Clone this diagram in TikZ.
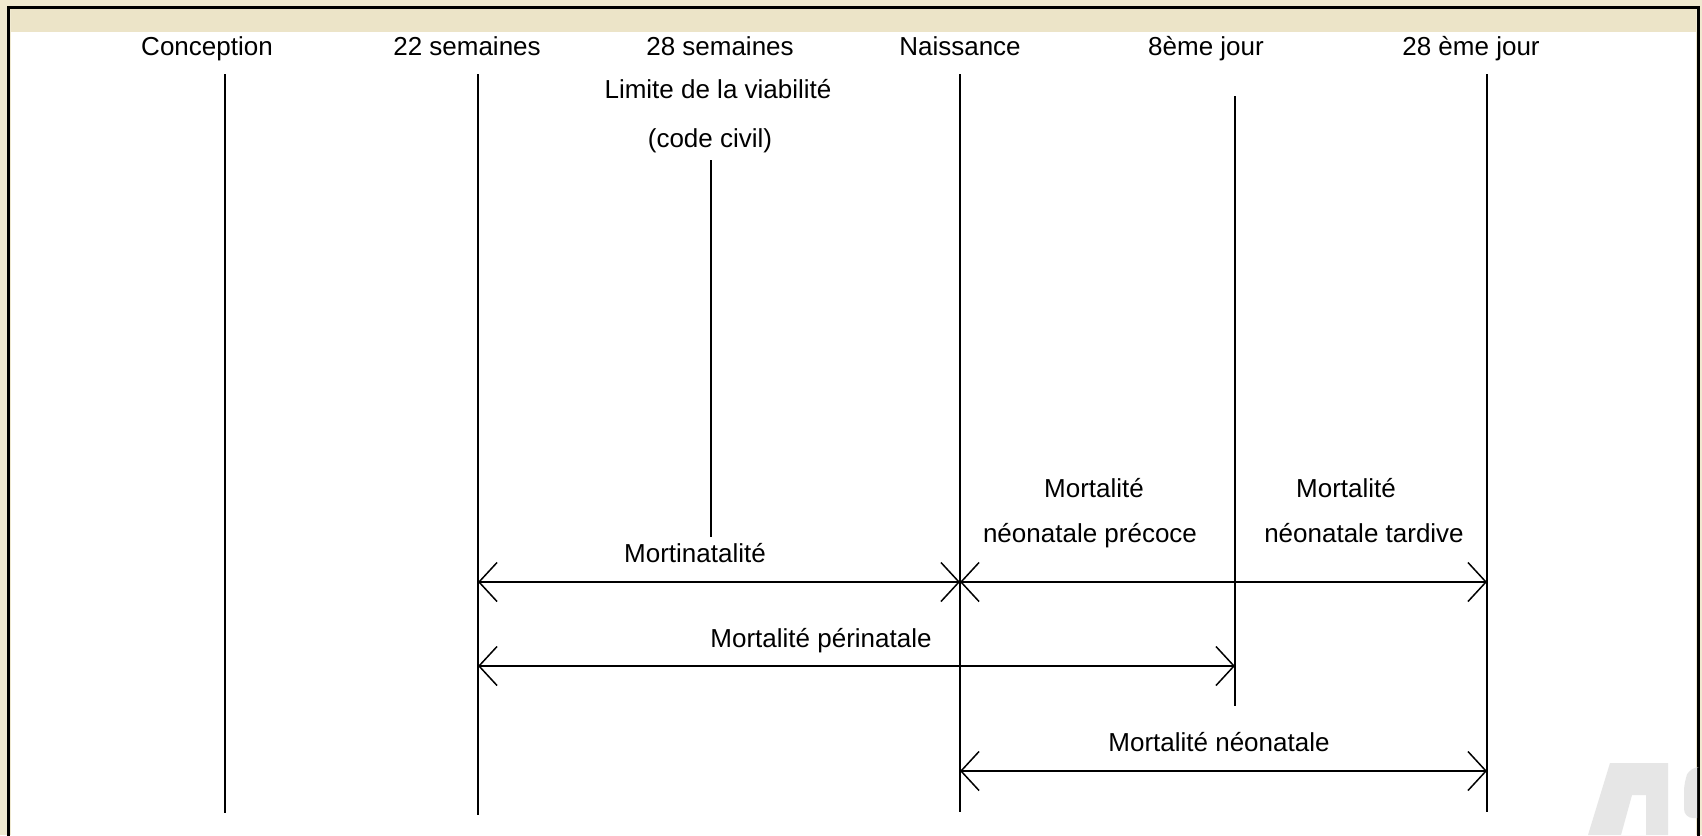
\documentclass[tikz,border=0pt]{standalone}
\usepackage{fontspec}
\setmainfont{Liberation Sans}
\usetikzlibrary{arrows.meta}
\definecolor{parchment}{RGB}{240,233,208}
\definecolor{bandbeige}{RGB}{236,228,200}
\definecolor{markgray}{RGB}{230,230,230}
\begin{document}
\begin{tikzpicture}[x=1pt,y=-1pt,
  lbl/.style={font=\fontsize{26}{31}\selectfont, inner sep=0pt, anchor=base},
  tick/.style={line width=2.2pt, black},
  barb/.tip={Straight Barb[length=18pt,width=39pt,line width=1.5pt]},
  span/.style={line width=2pt, black, barb-barb}]
\useasboundingbox (0,0) rectangle (1702,835);

% page background, frame and title band
\fill[parchment] (0,0) rectangle (1702,835);
\fill[white] (11,32) rectangle (1696,835);
\fill[bandbeige] (11,9) rectangle (1696,32);
\draw[line width=3pt, black] (8.5,840) -- (8.5,7.5) -- (1698.5,7.5) -- (1698.5,840);

% faint logo fragment in the lower right corner
\fill[markgray, even odd rule]
  (1610,763) -- (1668,763) -- (1668,835) -- (1588,835) -- cycle
  (1632,795) -- (1646,795) -- (1646,835) -- (1621,835) -- cycle;
\fill[markgray, rounded corners=9pt] (1697,767) -- (1690,767) -- (1684,782) -- (1684,818) -- (1697,818);

% time markers
\coordinate (conT) at (225,74);   \coordinate (conB) at (225,813);
\coordinate (s22T) at (478,74);   \coordinate (s22B) at (478,815);
\coordinate (s28T) at (711,160);  \coordinate (s28B) at (711,537);
\coordinate (naiT) at (960,74);   \coordinate (naiB) at (960,812);
\coordinate (j8T)  at (1235,96);  \coordinate (j8B)  at (1235,706);
\coordinate (j28T) at (1487,74);  \coordinate (j28B) at (1487,812);

\draw[tick] (conT) -- (conB);
\draw[tick] (s22T) -- (s22B);
\draw[tick] (s28T) -- (s28B);
\draw[tick] (naiT) -- (naiB);
\draw[tick] (j8T)  -- (j8B);
\draw[tick] (j28T) -- (j28B);

% marker titles
\node[lbl] (tCon) at (207,55)  {Conception};
\node[lbl] (t22)  at (467,55)  {22 semaines};
\node[lbl] (t28)  at (720,55)  {28 semaines};
\node[lbl] (tNai) at (960,55)  {Naissance};
\node[lbl] (t8)   at (1206,55) {8ème jour};
\node[lbl] (tJ28) at (1471,55) {28 ème jour};
\node[lbl] (tLim) at (718,98)  {Limite de la viabilité};
\node[lbl] (tCiv) at (710,147) {(code civil)};

% period spans
\coordinate (a22) at (478,582);  \coordinate (aNai) at (960,582);  \coordinate (a28) at (1487,582);
\coordinate (b22) at (478,666);  \coordinate (b8)   at (1235,666);
\coordinate (cNai) at (960,771); \coordinate (c28)  at (1487,771);

\draw[span] (a22) -- (aNai);
\draw[span] (aNai) -- (a28);
\draw[span] (b22) -- (b8);
\draw[span] (cNai) -- (c28);

% span labels
\node[lbl] (lMort)  at (695,562)  {Mortinatalité};
\node[lbl] (lPre1)  at (1094,497) {Mortalité};
\node[lbl] (lPre2)  at (1090,542) {néonatale précoce};
\node[lbl] (lTar1)  at (1346,497) {Mortalité};
\node[lbl] (lTar2)  at (1364,542) {néonatale tardive};
\node[lbl] (lPeri)  at (821,647)  {Mortalité périnatale};
\node[lbl] (lNeo)   at (1219,751) {Mortalité néonatale};
\end{tikzpicture}
\end{document}
